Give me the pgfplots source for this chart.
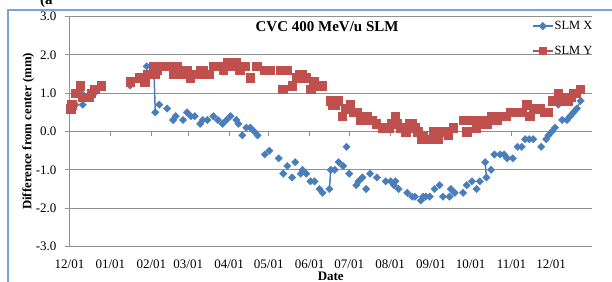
\documentclass[border=0pt]{standalone}
\usepackage{fontspec}
\setmainfont{Liberation Serif}
\usepackage{pgfplots}
\pgfplotsset{compat=1.18}
\definecolor{serX}{RGB}{74,126,187}
\definecolor{serY}{RGB}{192,80,77}
\definecolor{gridc}{RGB}{145,145,145}
\definecolor{bordc}{RGB}{125,163,214}
\begin{document}
\begin{tikzpicture}
\path[use as bounding box] (-69.5bp,-35.5bp) rectangle (542.5bp,246.5bp);
\draw[bordc, line width=1.2bp] (-61.5bp,-40bp) -- (-61.5bp,236.5bp) -- (550bp,236.5bp);
\node[anchor=base west, font=\bfseries\fontsize{15bp}{18bp}\selectfont, inner sep=0pt] at (-29.5bp,242bp) {(a};
\begin{axis}[
  at={(0,0)}, anchor=south west, scale only axis,
  width=522.5bp, height=230bp,
  xmin=0, xmax=396, ymin=-3, ymax=3,
  axis x line*=bottom, axis y line*=left,
  axis line style={-, draw=gridc, line width=0.9bp},
  ymajorgrids, grid style={gridc, line width=0.9bp},
  ytick={-3,-2,-1,0,1,2,3},
  yticklabels={-3.0,-2.0,-1.0,0.0,1.0,2.0,3.0},
  xtick={0,31,62,90,121,151,182,212,243,274,304,335,365},
  xticklabels={12/01,01/01,02/01,03/01,04/01,05/01,06/01,07/01,08/01,09/01,10/01,11/01,12/01},
  xtick style={draw=none},
  ytick style={draw=gridc, line width=0.9bp},
  tick align=outside, major tick length=4.5bp,
  tick label style={font=\fontsize{13bp}{15bp}\selectfont},
  xticklabel style={anchor=center, yshift=-13bp},
  yticklabel style={anchor=east, xshift=-5bp},
  ylabel={Difference from center (mm)},
  ylabel style={at={(axis description cs:-0.079,0.5)}, anchor=center, font=\bfseries\fontsize{12.8bp}{15bp}\selectfont},
  xlabel={Date},
  xlabel style={at={(axis description cs:0.5,-0.1304)}, anchor=center, font=\bfseries\fontsize{13bp}{15bp}\selectfont},
  title={CVC 400 MeV/u SLM},
  title style={at={(axis description cs:0.493,0.928)}, anchor=center, font=\bfseries\fontsize{15bp}{18bp}\selectfont},
  legend style={draw=none, fill=none, at={(rel axis cs:0.885,0.985)}, anchor=north west,
    font=\fontsize{12.5bp}{14bp}\selectfont, row sep=13bp, inner sep=0pt, nodes={inner sep=1bp}},
  legend cell align=left,
  legend image code/.code={\draw[#1, mark repeat=2, mark phase=2] plot coordinates {(0bp,0bp) (10bp,0bp) (20bp,0bp)};},
  unbounded coords=jump,
]
\pgfplotsinvokeforeach{0,31,62,90,121,151,182,212,243,274,304,335,365}{
  \draw[gridc, line width=0.9bp] (axis cs:#1,0) -- ([yshift=-4.5bp]axis cs:#1,0);
}
% SLM X markers
\addplot[forget plot, only marks, mark=square*, mark size=2.6bp, mark options={rotate=45, fill=serX, draw=serX}] coordinates {
(1,0.6) (4.5,0.7) (9,1.0) (10,0.7) (19,1.0) (46,1.2) (58.5,1.7) (64,1.6) (65,0.5)
(68,0.7) (74,0.6) (78.5,0.3) (80.5,0.4) (86,0.3) (89,0.5) (92,0.4) (95,0.4) (99,0.2)
(101,0.3) (104.5,0.3) (109,0.4) (112.5,0.3) (116,0.2) (119,0.3) (122,0.4) (126.5,0.3)
(128,0.2) (131,-0.1) (134,0.1) (137,0.1) (140,0.0) (142.5,-0.1) (148,-0.6) (151.5,-0.5)
(158.5,-0.7) (162,-1.1) (165,-0.9) (168.7,-1.2) (171,-0.8) (175.3,-1.1) (176.6,-1.0)
(179.5,-1.1) (182.6,-1.3) (185.7,-1.3) (189.5,-1.5) (191.8,-1.6) (197,-1.5) (198,-1.0)
(201,-1.0) (204,-0.8) (207.4,-0.9) (210,-0.4) (212,-1.1) (217.4,-1.4) (219,-1.3)
(222,-1.2) (224.8,-1.5) (227.8,-1.1) (233,-1.2) (239.6,-1.3) (243.4,-1.3) (245.9,-1.4)
(247,-1.3) (249.4,-1.5) (256,-1.6) (259.7,-1.7) (261.8,-1.7) (266.3,-1.8) (268,-1.7)
(270,-1.7) (273,-1.7) (276.6,-1.5) (280.5,-1.4) (283,-1.7) (288,-1.7) (289,-1.5)
(292,-1.6) (298.3,-1.6) (301,-1.4) (305,-1.3) (308.6,-1.5) (311,-1.3) (315,-0.8)
(316,-1.2) (319.5,-1.0) (322,-0.6) (326.4,-0.6) (329.4,-0.6) (331.7,-0.7) (336,-0.7)
(339.6,-0.4) (342.7,-0.4) (345.3,-0.2) (348.4,-0.2) (351.4,-0.2) (357.5,-0.4)
(361.3,-0.2) (363,-0.1) (365.6,0.0) (368,0.1) (370.4,0.7) (373.4,0.3) (377,0.3)
(379.5,0.4) (382,0.5) (384.5,0.6) (387.4,0.8)
};
% SLM X connecting segments (consecutive days)
\addplot[forget plot, serX, line width=1.5bp, no marks] coordinates {
(64,1.6) (65,0.5) (65.5,nan)
(197,-1.5) (198,-1.0) (198.5,nan)
(315,-0.8) (316,-1.2) (316.5,nan)
(379.5,0.4) (382,0.5) (384.5,0.6) (387.4,0.8)
};
% SLM Y markers
\addplot[forget plot, only marks, mark=square*, mark size=4.3bp, mark options={fill=serY, draw=serY}] coordinates {
(1,0.6) (1.5,0.7) (4.5,1.0) (8,1.2) (10,0.9) (12.5,0.9) (15,0.9) (16.5,1.0) (19,1.1) (24,1.2)
(46,1.3) (53,1.4) (57,1.3) (59,1.5) (62,1.5) (64,1.7) (65,1.5) (66,1.6) (68.5,1.7)
(71,1.7) (73,1.7) (75.5,1.7) (77.7,1.7) (78.5,1.5) (81.5,1.7) (85,1.5) (87,1.5) (89,1.6)
(91.4,1.4) (94.8,1.5) (97,1.5) (99,1.6) (101,1.6) (103,1.5) (106,1.5) (109,1.7)
(112.6,1.7) (116.4,1.6) (118.5,1.7) (120,1.8) (121.7,1.7) (124,1.7) (126,1.8) (129,1.6)
(131,1.7) (133,1.7) (137,1.4) (142,1.7) (147.5,1.6) (151.6,1.6) (160,1.6) (161.8,1.1)
(163,1.6) (165,1.6) (168.7,1.2) (171.7,1.4) (174,1.5) (176,1.5) (179,1.4) (182.7,1.1)
(185,1.3) (188,1.2) (191.4,1.2) (197.5,0.8) (199,0.7) (201,0.7) (203.6,0.8) (206.6,0.4)
(209,0.6) (210.4,0.6) (212.6,0.7) (215,0.5) (217.7,0.5) (220.2,0.3) (223,0.4)
(225.6,0.4) (226.7,0.3) (229.5,0.3) (232.4,0.2) (237,0.1) (239.2,0.1) (242.2,0.1)
(244,0.2) (246.8,0.4) (248,0.2) (251,0.1) (255,0.0) (257.5,0.2) (259.4,0.2) (261.9,0.1)
(264,0.0) (266.5,-0.2) (268,-0.1) (270,-0.2) (273.3,-0.2) (275.6,0.0) (277,-0.1)
(279.4,-0.2) (282.2,0.0) (284,0.0) (287,-0.1) (290.8,0.1) (298.3,0.3) (301,0.0)
(303.6,0.3) (306,0.3) (308.2,0.1) (310,0.2) (312.5,0.3) (316.3,0.2) (318,0.3) (320,0.4)
(322,0.3) (323.9,0.3) (326,0.4) (328.7,0.4) (331,0.4) (334,0.5) (336.2,0.5) (339,0.5)
(342.8,0.5) (346.6,0.7) (349,0.4) (351.4,0.6) (354,0.6) (356.7,0.6) (360,0.5)
(362.8,0.5) (366,0.8) (368,0.8) (370.4,1.0) (372,0.8) (374,0.8) (376,0.9) (378,0.8)
(380,0.9) (381.7,1.0) (384,1.0) (387,1.1)
};
\addlegendimage{serX, line width=1.5bp, mark=square*, mark size=2.2bp, mark options={rotate=45, fill=serX, draw=serX}}
\addlegendentry{SLM X}
\addlegendimage{serY, line width=1.5bp, mark=square*, mark size=3.3bp, mark options={fill=serY, draw=serY}}
\addlegendentry{SLM Y}
\end{axis}
\end{tikzpicture}
\end{document}
